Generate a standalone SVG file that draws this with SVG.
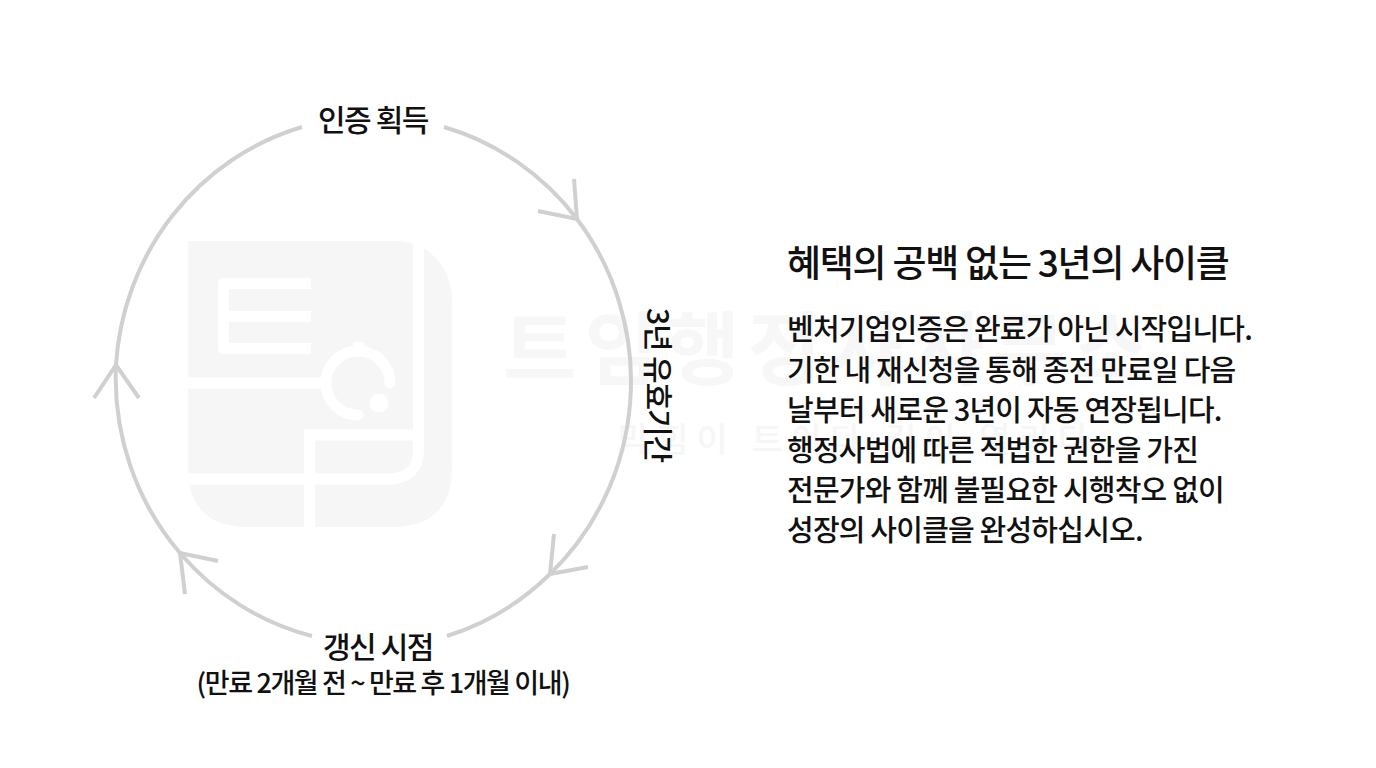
<svg xmlns="http://www.w3.org/2000/svg" width="1376" height="768" viewBox="0 0 1376 768">
<style>
text{font-family:"Noto Sans CJK KR","Noto Sans",sans-serif;fill:#111}
.lbl{font-size:30px;font-weight:500;text-anchor:middle;letter-spacing:-1.400px}
.body{font-size:29px;font-weight:500;letter-spacing:-0.800px}
.arc{fill:none;stroke:#d0d0d0;stroke-width:4}
.wm{fill:#f6f6f6}
.cut{fill:none;stroke:#fff;stroke-width:11}
</style>
<rect width="1376" height="768" fill="#fff"/>
<g id="watermark">
<path class="wm" d="M188 241H400C432 244 452 270 452 300V467Q452 527 392 527H248Q188 527 188 467Z"/>
<path class="cut" d="M418.500 236V449Q418.500 479 388 479H188M188 383H323M309.500 532V435H418"/>
<path class="cut" stroke-linejoin="round" d="M311 283.500H223.500V348.500H311M223.500 316.500H311"/>
<path class="cut" stroke-linecap="round" d="M390 383A32 32 0 1 0 358 415"/>
<rect x="353" y="342" width="11" height="6" fill="#fff"/>
<circle cx="379" cy="403" r="9.500" fill="#fff"/>
<text x="503" y="378" font-size="80" style="fill:#f7f7f7;letter-spacing:8px" font-weight="700">트임행정사사무소</text>
<text x="618" y="452" font-size="34" style="fill:#f6f6f6;letter-spacing:8px" font-weight="500">막힘이 트이다 길이 열리다</text>
</g>
<g id="connectors">
<path class="arc" d="M444 127A258 265 0 0 1 577 219"/>
<path class="arc" d="M574 179L577 219L538 211"/>
<path class="arc" d="M550 574A258 265 0 0 1 447 636"/>
<path class="arc" d="M588 567L550 574L554 534"/>
<path class="arc" d="M312 636A258 265 0 0 1 180 553"/>
<path class="arc" d="M218 561L180 553L185 594"/>
<path class="arc" d="M180 553A258 265 0 0 1 116 365"/>
<path class="arc" d="M94 398L116 365L139 398"/>
<path class="arc" d="M116 365A258 265 0 0 1 302 127"/>
<path class="arc" d="M577 219A258 265 0 0 1 550 574"/>
</g>
<g id="node-start"><text class="lbl" x="373" y="131">인증 획득</text></g>
<g id="node-renew"><text class="lbl" x="378" y="658">갱신 시점</text>
<text x="383" y="693" text-anchor="middle" font-size="27" font-weight="500" style="letter-spacing:-1.380px">(만료 2개월 전 ~ 만료 후 1개월 이내)</text></g>
<g id="node-period"><text transform="translate(647 385) rotate(90)" text-anchor="middle" font-size="30" font-weight="500" style="letter-spacing:-1.100px">3년 유효기간</text></g>
<g id="panel">
<text x="787" y="277" font-size="37" font-weight="500" style="letter-spacing:-1.250px">혜택의 공백 없는 3년의 사이클</text>
<text class="body" x="787" y="340">벤처기업인증은 완료가 아닌 시작입니다.</text>
<text class="body" x="787" y="381">기한 내 재신청을 통해 종전 만료일 다음</text>
<text class="body" x="787" y="421">날부터 새로운 3년이 자동 연장됩니다.</text>
<text class="body" x="787" y="461">행정사법에 따른 적법한 권한을 가진</text>
<text class="body" x="787" y="501">전문가와 함께 불필요한 시행착오 없이</text>
<text class="body" x="787" y="541">성장의 사이클을 완성하십시오.</text>
</g>
</svg>
